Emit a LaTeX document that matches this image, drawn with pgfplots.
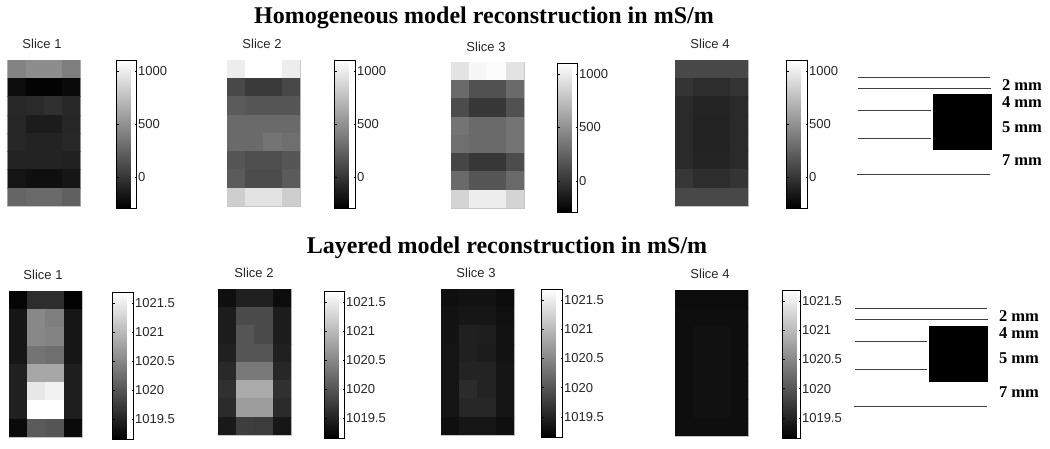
\documentclass[border=0pt]{standalone}
\usepackage{pgfplots}
\pgfplotsset{compat=1.18}
\usepackage{fontspec}
\setmainfont{Liberation Sans}
\newfontfamily\serifb[BoldFont={Liberation Serif Bold}]{Liberation Serif}
\definecolor{txt}{gray}{0.15}
\newcommand{\ttl}{\fontsize{24}{24}\selectfont\serifb\bfseries}
\newcommand{\mml}{\fontsize{16.5}{16.5}\selectfont\serifb\bfseries}
\newcommand{\sll}{\fontsize{13}{13}\selectfont\color{txt}}
\pgfplotsset{
  colormap={mygray}{gray(0cm)=(0); gray(1cm)=(1)},
  % x, y top of image, x colourbar, y top colourbar, w colourbar, h colourbar
  panel/.style n args={6}{
    scale only axis, width=73pt, height=146pt,
    at={(#1pt,449pt-#2pt-146pt)}, anchor=south west,
    xmin=-0.5, xmax=3.5, ymin=-0.5, ymax=7.5, y dir=reverse,
    ticks=none, axis line style={draw=gray!45, line width=0.4pt},
    colorbar,
    colorbar style={
      at={(parent axis.north east)}, anchor=north west,
      xshift={#3pt-#1pt-73pt}, yshift={#2pt-#4pt},
      width=#5pt, height=#6pt,
      axis line style={draw=black, line width=0.6pt},
      tick align=inside, tick pos=both, yticklabel pos=right,
      major tick length=2pt, tick style={black, line width=0.4pt},
      yticklabel style={font=\sll, xshift=-2pt},
    },
  },
  hom/.style={
    point meta min=-292, point meta max=1104,
    colorbar style={ytick={0,500,1000}, yticklabels={0,500,1000}},
  },
  lay/.style={
    point meta min=1019.155, point meta max=1021.69,
    colorbar style={ytick={1019.5,1020,1020.5,1021,1021.5},
      yticklabels={1019.5,1020,1020.5,1021,1021.5}},
  },
  heatgrid/.style={matrix plot*, mesh/cols=4, point meta=explicit},
}
\begin{document}
\begin{tikzpicture}[x=1pt,y=1pt]
\useasboundingbox (0,0) rectangle (1050pt,449pt);
% text and schematic, in picture pixels
\begin{axis}[at={(0,0)}, anchor=south west, scale only axis, width=1050pt, height=449pt,
  xmin=0, xmax=1050, ymin=0, ymax=449, y dir=reverse, hide axis, clip=false]
\node[anchor=base, font=\ttl] at (axis cs:484,24) {Homogeneous model reconstruction in mS/m};
\node[anchor=base, font=\ttl] at (axis cs:507,254) {Layered model reconstruction in mS/m};
\node[font=\sll] at (axis cs:42,44) {Slice 1};
\node[font=\sll] at (axis cs:262,44) {Slice 2};
\node[font=\sll] at (axis cs:486,47) {Slice 3};
\node[font=\sll] at (axis cs:710,44) {Slice 4};
\node[font=\sll] at (axis cs:43,275) {Slice 1};
\node[font=\sll] at (axis cs:254,273) {Slice 2};
\node[font=\sll] at (axis cs:476,273) {Slice 3};
\node[font=\sll] at (axis cs:710,274) {Slice 4};
\addplot[black!75, line width=1pt] coordinates {(858,78) (990,78)};
\addplot[black!75, line width=1pt] coordinates {(858,89) (991,89)};
\addplot[black!75, line width=1pt] coordinates {(858,111) (931,111)};
\addplot[black!75, line width=1pt] coordinates {(858,139) (931,139)};
\addplot[black!75, line width=1pt] coordinates {(857,175) (990,175)};
\addplot[fill=black, draw=black, line width=0.2pt] coordinates {(933,94) (991,94) (991,149) (933,149)} -- cycle;
\node[font=\mml] at (axis cs:1022,85) {2 mm};
\node[font=\mml] at (axis cs:1022,102) {4 mm};
\node[font=\mml] at (axis cs:1022,127) {5 mm};
\node[font=\mml] at (axis cs:1022,160) {7 mm};
\addplot[black!75, line width=1pt] coordinates {(855,309) (987,309)};
\addplot[black!75, line width=1pt] coordinates {(855,320) (988,320)};
\addplot[black!75, line width=1pt] coordinates {(855,342) (927,342)};
\addplot[black!75, line width=1pt] coordinates {(855,370) (927,370)};
\addplot[black!75, line width=1pt] coordinates {(854,406) (987,406)};
\addplot[fill=black, draw=black, line width=0.2pt] coordinates {(929,326) (987,326) (987,381) (929,381)} -- cycle;
\node[font=\mml] at (axis cs:1019,316) {2 mm};
\node[font=\mml] at (axis cs:1019,333) {4 mm};
\node[font=\mml] at (axis cs:1019,358) {5 mm};
\node[font=\mml] at (axis cs:1019,392) {7 mm};
\end{axis}
% Homogeneous, slice 1
\begin{axis}[panel={7.5}{60}{108}{60}{20}{148}, hom]
\addplot[heatgrid] coordinates {
(0,0)[420] (1,0)[475] (2,0)[475] (3,0)[392]
(0,1)[-226] (1,1)[-276] (2,1)[-276] (3,1)[-237]
(0,2)[-73] (1,2)[-62] (2,2)[-29] (3,2)[-73]
(0,3)[-84] (1,3)[-139] (2,3)[-139] (3,3)[-84]
(0,4)[-84] (1,4)[-100] (2,4)[-100] (3,4)[-73]
(0,5)[-100] (1,5)[-100] (2,5)[-100] (3,5)[-111]
(0,6)[-182] (1,6)[-210] (2,6)[-210] (3,6)[-172]
(0,7)[256] (1,7)[283] (2,7)[283] (3,7)[228]
};
\end{axis}
% Homogeneous, slice 2
\begin{axis}[panel={227}{60}{326}{60}{21}{148}, hom]
\addplot[heatgrid] coordinates {
(0,0)[995] (1,0)[1104] (2,0)[1104] (3,0)[995]
(0,1)[102] (1,1)[26] (2,1)[26] (3,1)[102]
(0,2)[201] (1,2)[173] (2,2)[173] (3,2)[173]
(0,3)[283] (1,3)[283] (2,3)[283] (3,3)[283]
(0,4)[283] (1,4)[283] (2,4)[338] (3,4)[310]
(0,5)[173] (1,5)[135] (2,5)[135] (3,5)[173]
(0,6)[201] (1,6)[119] (2,6)[119] (3,6)[201]
(0,7)[830] (1,7)[940] (2,7)[940] (3,7)[830]
};
\end{axis}
% Homogeneous, slice 3
\begin{axis}[panel={451}{62}{549}{63}{20}{149}, hom]
\addplot[heatgrid] coordinates {
(0,0)[940] (1,0)[1049] (2,0)[1077] (3,0)[940]
(0,1)[283] (1,1)[146] (2,1)[146] (3,1)[283]
(0,2)[119] (1,2)[9] (2,2)[9] (3,2)[146]
(0,3)[338] (1,3)[283] (2,3)[283] (3,3)[338]
(0,4)[310] (1,4)[283] (2,4)[283] (3,4)[338]
(0,5)[91] (1,5)[9] (2,5)[9] (3,5)[119]
(0,6)[283] (1,6)[173] (2,6)[173] (3,6)[283]
(0,7)[858] (1,7)[995] (2,7)[995] (3,7)[858]
};
\end{axis}
% Homogeneous, slice 4
\begin{axis}[panel={675}{60}{778}{60}{21}{148}, hom]
\addplot[heatgrid] coordinates {
(0,0)[102] (1,0)[102] (2,0)[102] (3,0)[102]
(0,1)[-7] (1,1)[-46] (2,1)[-46] (3,1)[-7]
(0,2)[-62] (1,2)[-95] (2,2)[-95] (3,2)[-62]
(0,3)[-62] (1,3)[-100] (2,3)[-100] (3,3)[-62]
(0,4)[-62] (1,4)[-100] (2,4)[-100] (3,4)[-62]
(0,5)[-62] (1,5)[-95] (2,5)[-95] (3,5)[-62]
(0,6)[9] (1,6)[-46] (2,6)[-46] (3,6)[-7]
(0,7)[102] (1,7)[102] (2,7)[102] (3,7)[102]
};
\end{axis}
% Layered, slice 1
\begin{axis}[panel={9}{291}{104}{292}{21}{147}, lay]
\addplot[heatgrid] coordinates {
(0,0)[1019.205] (1,0)[1019.60] (2,0)[1019.60] (3,0)[1019.185]
(0,1)[1019.375] (1,1)[1020.50] (2,1)[1020.40] (3,1)[1019.375]
(0,2)[1019.375] (1,2)[1020.50] (2,2)[1020.45] (3,2)[1019.375]
(0,3)[1019.375] (1,3)[1020.30] (2,3)[1020.25] (3,3)[1019.375]
(0,4)[1019.475] (1,4)[1020.80] (2,4)[1020.80] (3,4)[1019.455]
(0,5)[1019.475] (1,5)[1021.44] (2,5)[1021.54] (3,5)[1019.455]
(0,6)[1019.475] (1,6)[1021.69] (2,6)[1021.69] (3,6)[1019.455]
(0,7)[1019.255] (1,7)[1020.05] (2,7)[1020.00] (3,7)[1019.255]
};
\end{axis}
% Layered, slice 2
\begin{axis}[panel={218}{289}{316}{291}{20}{147}, lay]
\addplot[heatgrid] coordinates {
(0,0)[1019.305] (1,0)[1019.475] (2,0)[1019.475] (3,0)[1019.275]
(0,1)[1019.435] (1,1)[1019.90] (2,1)[1019.90] (3,1)[1019.435]
(0,2)[1019.435] (1,2)[1020.00] (2,2)[1019.90] (3,2)[1019.435]
(0,3)[1019.475] (1,3)[1020.00] (2,3)[1020.00] (3,3)[1019.475]
(0,4)[1019.555] (1,4)[1020.35] (2,4)[1020.35] (3,4)[1019.535]
(0,5)[1019.63] (1,5)[1020.845] (2,5)[1020.845] (3,5)[1019.63]
(0,6)[1019.575] (1,6)[1020.70] (2,6)[1020.70] (3,6)[1019.575]
(0,7)[1019.405] (1,7)[1019.77] (2,7)[1019.75] (3,7)[1019.375]
};
\end{axis}
% Layered, slice 3
\begin{axis}[panel={441}{289}{533}{289}{21}{148}, lay]
\addplot[heatgrid] coordinates {
(0,0)[1019.305] (1,0)[1019.335] (2,0)[1019.335] (3,0)[1019.275]
(0,1)[1019.335] (1,1)[1019.375] (2,1)[1019.375] (3,1)[1019.315]
(0,2)[1019.335] (1,2)[1019.475] (2,2)[1019.455] (3,2)[1019.335]
(0,3)[1019.355] (1,3)[1019.475] (2,3)[1019.435] (3,3)[1019.335]
(0,4)[1019.355] (1,4)[1019.505] (2,4)[1019.505] (3,4)[1019.355]
(0,5)[1019.355] (1,5)[1019.575] (2,5)[1019.505] (3,5)[1019.355]
(0,6)[1019.355] (1,6)[1019.535] (2,6)[1019.535] (3,6)[1019.355]
(0,7)[1019.305] (1,7)[1019.375] (2,7)[1019.375] (3,7)[1019.305]
};
\end{axis}
% Layered, slice 4
\begin{axis}[panel={675}{290}{774}{290}{18}{148}, lay]
\addplot[heatgrid] coordinates {
(0,0)[1019.275] (1,0)[1019.275] (2,0)[1019.275] (3,0)[1019.275]
(0,1)[1019.295] (1,1)[1019.295] (2,1)[1019.295] (3,1)[1019.295]
(0,2)[1019.295] (1,2)[1019.325] (2,2)[1019.325] (3,2)[1019.295]
(0,3)[1019.295] (1,3)[1019.325] (2,3)[1019.325] (3,3)[1019.295]
(0,4)[1019.295] (1,4)[1019.325] (2,4)[1019.325] (3,4)[1019.295]
(0,5)[1019.295] (1,5)[1019.325] (2,5)[1019.325] (3,5)[1019.295]
(0,6)[1019.295] (1,6)[1019.325] (2,6)[1019.325] (3,6)[1019.295]
(0,7)[1019.295] (1,7)[1019.295] (2,7)[1019.295] (3,7)[1019.295]
};
\end{axis}
\end{tikzpicture}
\end{document}
